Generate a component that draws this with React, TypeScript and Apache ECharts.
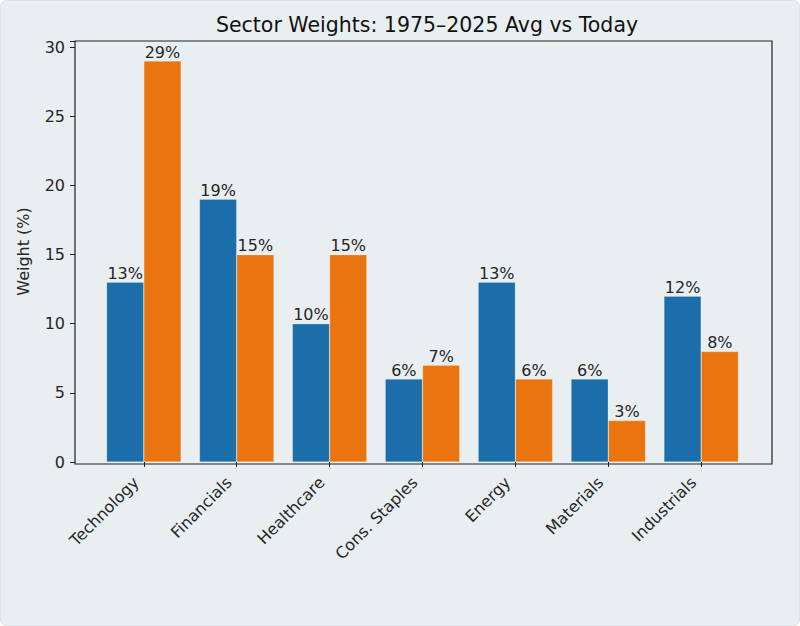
import React, { useEffect, useRef } from "react";
import * as echarts from "echarts";

const categories = ["Technology", "Financials", "Healthcare", "Cons. Staples", "Energy", "Materials", "Industrials"];
const avgWeights = [13, 19, 10, 6, 13, 6, 12];
const todayWeights = [29, 15, 15, 7, 6, 3, 8];
const yTicks = [0, 5, 10, 15, 20, 25, 30];

const FONT = "DejaVu Sans";
const TEXT = "#262626";
const FS = 16;

export default function App() {
  const ref = useRef<HTMLDivElement>(null);
  useEffect(() => {
    const chart = echarts.init(ref.current!, null, { renderer: "svg" });
    // plot frame: x 74..771, y 40..463
    const frameL = 74, frameR = 771, frameT = 40, frameB = 463;
    const unit = (frameR - frameL) / 7.48;
    const gridL = frameL + 0.24 * unit;
    const gridR = 800 - (frameR - 0.24 * unit);
    const label = {
      show: true,
      position: "top",
      distance: 1,
      formatter: (p: any) => `${p.value}%`,
      fontFamily: FONT,
      fontSize: FS,
      color: TEXT,
    };
    chart.setOption({
      animation: false,
      backgroundColor: "transparent",
      textStyle: { fontFamily: FONT },
      title: {
        text: "Sector Weights: 1975\u20132025 Avg vs Today",
        left: 421,
        textAlign: "center",
        top: 8,
        textStyle: { fontFamily: FONT, fontSize: 20.5, fontWeight: "normal", color: "#111" },
      },
      grid: { left: gridL, right: gridR, top: frameT, bottom: 626 - frameB },
      xAxis: {
        type: "category",
        data: categories,
        axisLine: { show: false },
        axisTick: { show: true, alignWithLabel: true, length: 5, lineStyle: { color: "#222" } },
        axisLabel: {
          rotate: 45,
          interval: 0,
          margin: 10,
          padding: [0, 11, 0, 0],
          fontFamily: FONT,
          fontSize: FS,
          color: TEXT,
        },
      },
      yAxis: {
        type: "value",
        min: 0,
        max: 30.45,
        interval: 5,
        offset: gridL - frameL,
        splitLine: { show: false },
        axisLine: { show: false },
        axisTick: { show: true, length: 5, lineStyle: { color: "#222" } },
        axisLabel: {
          fontFamily: FONT,
          fontSize: FS,
          color: TEXT,
          margin: 10,
          formatter: (v: number) => (yTicks.includes(v) ? String(v) : ""),
        },
        name: "Weight (%)",
        nameLocation: "middle",
        nameGap: 44,
        nameTextStyle: { fontFamily: FONT, fontSize: FS, color: TEXT },
      },
      series: [
        {
          type: "bar",
          name: "1975-2025 Avg",
          data: avgWeights,
          barWidth: 0.4 * unit,
          barGap: "0%",
          itemStyle: { color: "#1b6ea9", borderColor: "rgba(255,255,255,0.35)", borderWidth: 0.6 },
          label,
        },
        {
          type: "bar",
          name: "Today",
          data: todayWeights,
          barWidth: 0.4 * unit,
          barGap: "0%",
          itemStyle: { color: "#ea7510", borderColor: "rgba(255,255,255,0.35)", borderWidth: 0.6 },
          label,
        },
      ],
      graphic: [
        {
          type: "rect",
          shape: { x: frameL, y: frameT, width: frameR - frameL, height: frameB - frameT },
          style: { fill: "none", stroke: "#222", lineWidth: 1.2 },
          z: 100,
          silent: true,
        },
      ],
    });
    return () => chart.dispose();
  }, []);
  return (
    <div
      style={{
        position: "absolute",
        left: 0,
        top: 0,
        width: 800,
        height: 626,
        background: "#e9eef1",
        borderRadius: 6,
        boxSizing: "border-box",
        border: "1px solid #dde3e6",
      }}
    >
      <div ref={ref} style={{ width: 798, height: 624 }} />
    </div>
  );
}
